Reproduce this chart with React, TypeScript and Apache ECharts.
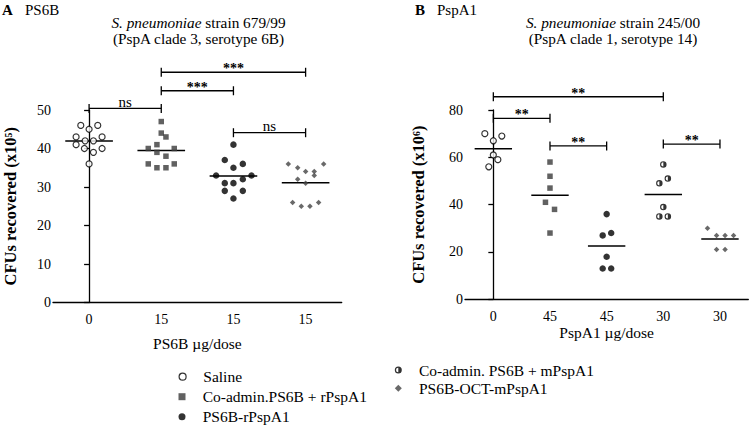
import React, { useEffect, useRef } from 'react';
import * as echarts from 'echarts';

// ---------- data ----------
const categoriesA = ['0', '15', '15', '15'];
const categoriesB = ['0', '45', '45', '30', '30'];

const groupNames = [
  'Saline',
  'Co-admin.PS6B + rPspA1',
  'PS6B-rPspA1',
  'Co-admin. PS6B + mPspA1',
  'PS6B-OCT-mPspA1',
];

// Panel A (x10^5)
const salineA = [46, 45, 46, 43, 43, 41, 42, 42, 40, 39, 40, 36];
const salineAJitter = [-0.115, 0, 0.12, -0.18, 0.18, -0.18, -0.055, 0.06, -0.065, 0.06, 0.18, 0];
const coRA = [47, 44, 43, 41, 40, 40, 39, 38, 36, 36, 35, 35];
const coRAJitter = [0, 0, 0.065, -0.06, -0.18, 0.18, -0.06, 0.065, -0.18, 0.18, -0.06, 0.065];
const conjRA = [41, 37, 36, 35, 33, 33, 31, 31, 32, 29, 29, 27];
const conjRAJitter = [0, -0.12, 0.13, 0, -0.24, 0.25, -0.12, 0, 0.13, -0.12, 0.13, 0];
const octA = [36, 35, 34, 34, 36, 33, 32, 31, 26, 25, 25, 26];
const octAJitter = [-0.24, -0.11, 0, 0.12, 0.25, 0.12, -0.11, 0, -0.18, -0.06, 0.06, 0.18];

// Panel B (x10^6)
const salineB = [70, 67, 69, 61, 59, 56];
const salineBJitter = [-0.15, 0, 0.15, 0, 0.08, -0.08];
const coRB = [58, 52, 47, 41, 38, 28];
const coRBJitter = [0, 0, 0, -0.08, 0.08, 0];
const conjRB = [36, 27, 28, 18, 13, 13];
const conjRBJitter = [0, -0.07, 0.08, 0, -0.07, 0.08];
const coMB = [57, 49, 51, 39, 35, 35];
const coMBJitter = [0, -0.07, 0.08, 0, -0.07, 0.08];
const octB = [30, 27, 27, 27, 21, 21];
const octBJitter = [-0.22, -0.06, 0.09, 0.24, -0.06, 0.09];

// significance brackets: [from category, to category, y value]
const bracketsA = [[1, 3, 59.8], [1, 2, 55.0], [0, 1, 50.4], [2, 3, 44.1]];
const bracketLabelsA = ['***', '***', 'ns', 'ns'];
const bracketsB = [[0, 3, 85.6], [0, 1, 76.5], [1, 2, 64.8], [3, 4, 65.6]];
const bracketLabelsB = ['**', '**', '**', '**'];

// ---------- styles ----------
const FAMILY = '"Liberation Serif", "Times New Roman", serif';
const HALF = 'path://M10,0 A10,10 0 1,1 10,20 A10,10 0 1,1 10,0 Z M10,3.5 A6.5,6.5 0 0,0 10,16.5 Z';
const SQUARE = 'path://M0,0 L10,0 L10,10 L0,10 Z';
const DIAMOND = 'path://M5,0 L10,5 L5,10 L0,5 Z';
const CIRCLE = 'path://M10,0 A10,10 0 1,1 10,20 A10,10 0 1,1 10,0 Z';

const symbolStyles: Record<string, any> = {
  'Saline': { symbol: 'circle', legendIcon: CIRCLE, symbolSize: 6, itemStyle: { color: '#fff', borderColor: '#000', borderWidth: 1.2 } },
  'Co-admin.PS6B + rPspA1': { symbol: 'rect', legendIcon: SQUARE, symbolSize: 5.5, itemStyle: { color: '#3a3a3a' } },
  'PS6B-rPspA1': { symbol: 'circle', legendIcon: CIRCLE, symbolSize: 6.5, itemStyle: { color: '#000' } },
  'Co-admin. PS6B + mPspA1': { symbol: HALF, legendIcon: HALF, symbolSize: 6.5, itemStyle: { color: '#000' } },
  'PS6B-OCT-mPspA1': { symbol: 'diamond', legendIcon: DIAMOND, symbolSize: 5.5, itemStyle: { color: '#444' } },
};

// legend rows: [name, icon centre x, row centre y]
const legendRows: [string, number, number][] = [
  [groupNames[0], 182, 376.7],
  [groupNames[1], 182, 396.7],
  [groupNames[2], 182, 416.7],
  [groupNames[3], 398.3, 370],
  [groupNames[4], 398.3, 388.3],
];

function points(values: number[], jitter: number[], cat: number) {
  return values.map((v, i) => [cat + jitter[i], v]);
}
function mean(values: number[]) {
  return values.reduce((a, b) => a + b, 0) / values.length;
}

function scatter(name: string, values: number[], jitter: number[], cat: number, xIdx: number, yIdx: number) {
  const s = symbolStyles[name];
  return {
    type: 'scatter',
    name,
    xAxisIndex: xIdx,
    yAxisIndex: yIdx,
    symbol: s.symbol,
    symbolSize: s.symbolSize,
    itemStyle: s.itemStyle,
    data: points(values, jitter, cat),
    z: 3,
  };
}

function meanSeries(groups: number[][], xIdx: number, yIdx: number) {
  return {
    type: 'custom',
    xAxisIndex: xIdx,
    yAxisIndex: yIdx,
    silent: true,
    z: 2,
    data: groups.map((g, i) => [i, mean(g)]),
    renderItem: (params: any, api: any) => {
      const c = api.value(0);
      const m = api.value(1);
      const p1 = api.coord([c - 0.33, m]);
      const p2 = api.coord([c + 0.33, m]);
      return {
        type: 'line',
        shape: { x1: p1[0], y1: p1[1], x2: p2[0], y2: p2[1] },
        style: { stroke: '#000', lineWidth: 1.5 },
      };
    },
  };
}

function bracketSeries(brackets: number[][], labels: string[], xIdx: number, yIdx: number) {
  return {
    type: 'custom',
    xAxisIndex: xIdx,
    yAxisIndex: yIdx,
    silent: true,
    clip: false,
    z: 4,
    encode: { x: [0, 1], y: 2 },
    data: brackets,
    renderItem: (params: any, api: any) => {
      const x1 = api.value(0);
      const x2 = api.value(1);
      const y = api.value(2);
      const p1 = api.coord([x1, y]);
      const p2 = api.coord([x2, y]);
      const label = labels[params.dataIndex];
      const isNs = label === 'ns';
      const ls = { stroke: '#000', lineWidth: 1.3 };
      return {
        type: 'group',
        children: [
          { type: 'line', shape: { x1: p1[0], y1: p1[1], x2: p2[0], y2: p2[1] }, style: ls },
          { type: 'line', shape: { x1: p1[0], y1: p1[1] - 4.5, x2: p1[0], y2: p1[1] + 4.5 }, style: ls },
          { type: 'line', shape: { x1: p2[0], y1: p2[1] - 4.5, x2: p2[0], y2: p2[1] + 4.5 }, style: ls },
          {
            type: 'text',
            x: (p1[0] + p2[0]) / 2,
            y: p1[1] - (isNs ? 6.8 : 3.6),
            style: {
              text: label,
              align: 'center',
              verticalAlign: 'middle',
              textAlign: 'center',
              textVerticalAlign: 'middle',
              font: isNs ? '15px ' + FAMILY : 'bold 14px ' + FAMILY,
              fill: '#000',
            },
          },
        ],
      };
    },
  };
}

const axisLineStyle = { color: '#000', width: 1.3 };

function catAxis(gridIndex: number, data: string[], name: string, nameGap: number) {
  return {
    type: 'category',
    gridIndex,
    data,
    boundaryGap: true,
    name,
    nameLocation: 'middle',
    nameGap,
    nameTextStyle: { fontFamily: FAMILY, fontSize: 15.5, color: '#000' },
    axisLine: { lineStyle: axisLineStyle },
    axisTick: { alignWithLabel: true, length: 5, lineStyle: axisLineStyle },
    axisLabel: { fontFamily: FAMILY, fontSize: 14, color: '#000', margin: 10 },
    splitLine: { show: false },
  };
}

function hiddenValueAxis(gridIndex: number, n: number) {
  return { type: 'value', gridIndex, min: -0.5, max: n - 0.5, show: false, splitLine: { show: false } };
}

function valAxis(gridIndex: number, max: number, interval: number, name: string, nameGap: number) {
  return {
    type: 'value',
    gridIndex,
    min: 0,
    max,
    interval,
    name,
    nameLocation: 'middle',
    nameGap,
    nameTextStyle: { fontFamily: FAMILY, fontSize: 16.5, fontWeight: 'bold', color: '#000' },
    axisLine: { show: true, lineStyle: axisLineStyle },
    axisTick: { show: true, length: 5, lineStyle: axisLineStyle },
    axisLabel: { fontFamily: FAMILY, fontSize: 14, color: '#000', margin: 2 },
    splitLine: { show: false },
  };
}

function legends() {
  return legendRows.map(([name, cx, cy]) => {
    const s = symbolStyles[name];
    return {
      orient: 'horizontal',
      left: cx - 3.5,
      top: cy - 8,
      itemWidth: 7,
      itemHeight: 7,
      symbolKeepAspect: true,
      selectedMode: false,
      padding: 0,
      textStyle: { fontFamily: FAMILY, fontSize: 15.5, color: '#000', lineHeight: 16, padding: [0, 0, 0, 12.2] },
      data: [{ name, icon: s.legendIcon, itemStyle: s.itemStyle }],
    };
  });
}

const TITLE_FONT = '15.3px ' + FAMILY;
const TITLE_FONT_I = 'italic 15.3px ' + FAMILY;

let measureCtx: CanvasRenderingContext2D | null = null;
function measure(text: string, font: string): number {
  if (!measureCtx) measureCtx = document.createElement('canvas').getContext('2d');
  if (!measureCtx) return text.length * 7;
  measureCtx.font = font;
  return measureCtx.measureText(text).width;
}

function textEl(x: number, y: number, text: string, font: string, align: string) {
  return {
    type: 'text',
    x,
    y,
    style: {
      text,
      font,
      fill: '#000',
      align,
      textAlign: align,
      verticalAlign: 'middle',
      textVerticalAlign: 'middle',
    },
  };
}

function titleEls(cx: number, strain: string, sub: string) {
  const italicPart = 'S. pneumoniae';
  const restPart = ' strain ' + strain;
  const w1 = measure(italicPart, TITLE_FONT_I);
  const w2 = measure(restPart, TITLE_FONT);
  const startX = cx - (w1 + w2) / 2;
  return [
    textEl(startX, 22, italicPart, TITLE_FONT_I, 'left'),
    textEl(startX + w1, 22, restPart, TITLE_FONT, 'left'),
    textEl(cx, 38, sub, TITLE_FONT, 'center'),
  ];
}

export default function App() {
  const ref = useRef<HTMLDivElement>(null);
  useEffect(() => {
    if (!ref.current) return;
    const chart = echarts.init(ref.current, undefined, { renderer: 'svg' });
    const option: any = {
      animation: false,
      backgroundColor: '#fff',
      textStyle: { fontFamily: FAMILY },
      grid: [
        { left: 53, top: 110, width: 288.7, height: 192.5 },
        { left: 465, top: 110, width: 283.3, height: 189.3 },
      ],
      xAxis: [
        catAxis(0, categoriesA, 'PS6B µg/dose', 32.5),
        hiddenValueAxis(0, categoriesA.length),
        catAxis(1, categoriesB, 'PspA1 µg/dose', 24.5),
        hiddenValueAxis(1, categoriesB.length),
      ],
      yAxis: [
        valAxis(0, 50, 10, 'CFUs recovered (x10⁵)', 34.5),
        valAxis(1, 80, 20, 'CFUs recovered (x10⁶)', 38.5),
      ],
      legend: legends(),
      graphic: [
        textEl(2, 10, 'A', 'bold 15px ' + FAMILY, 'left'),
        textEl(25, 10, 'PS6B', '15px ' + FAMILY, 'left'),
        textEl(415, 10, 'B', 'bold 15px ' + FAMILY, 'left'),
        textEl(437, 10, 'PspA1', '15px ' + FAMILY, 'left'),
        ...titleEls(198.5, '679/99', '(PspA clade 3, serotype 6B)'),
        ...titleEls(613, '245/00', '(PspA clade 1, serotype 14)'),
      ],
      series: [
        meanSeries([salineA, coRA, conjRA, octA], 1, 0),
        scatter(groupNames[0], salineA, salineAJitter, 0, 1, 0),
        scatter(groupNames[1], coRA, coRAJitter, 1, 1, 0),
        scatter(groupNames[2], conjRA, conjRAJitter, 2, 1, 0),
        scatter(groupNames[4], octA, octAJitter, 3, 1, 0),
        bracketSeries(bracketsA, bracketLabelsA, 1, 0),

        meanSeries([salineB, coRB, conjRB, coMB, octB], 3, 1),
        scatter(groupNames[0], salineB, salineBJitter, 0, 3, 1),
        scatter(groupNames[1], coRB, coRBJitter, 1, 3, 1),
        scatter(groupNames[2], conjRB, conjRBJitter, 2, 3, 1),
        scatter(groupNames[3], coMB, coMBJitter, 3, 3, 1),
        scatter(groupNames[4], octB, octBJitter, 4, 3, 1),
        bracketSeries(bracketsB, bracketLabelsB, 3, 1),
      ],
    };
    chart.setOption(option);
    return () => chart.dispose();
  }, []);
  return <div ref={ref} style={{ position: 'absolute', left: 0, top: 0, width: 750, height: 432 }} />;
}
